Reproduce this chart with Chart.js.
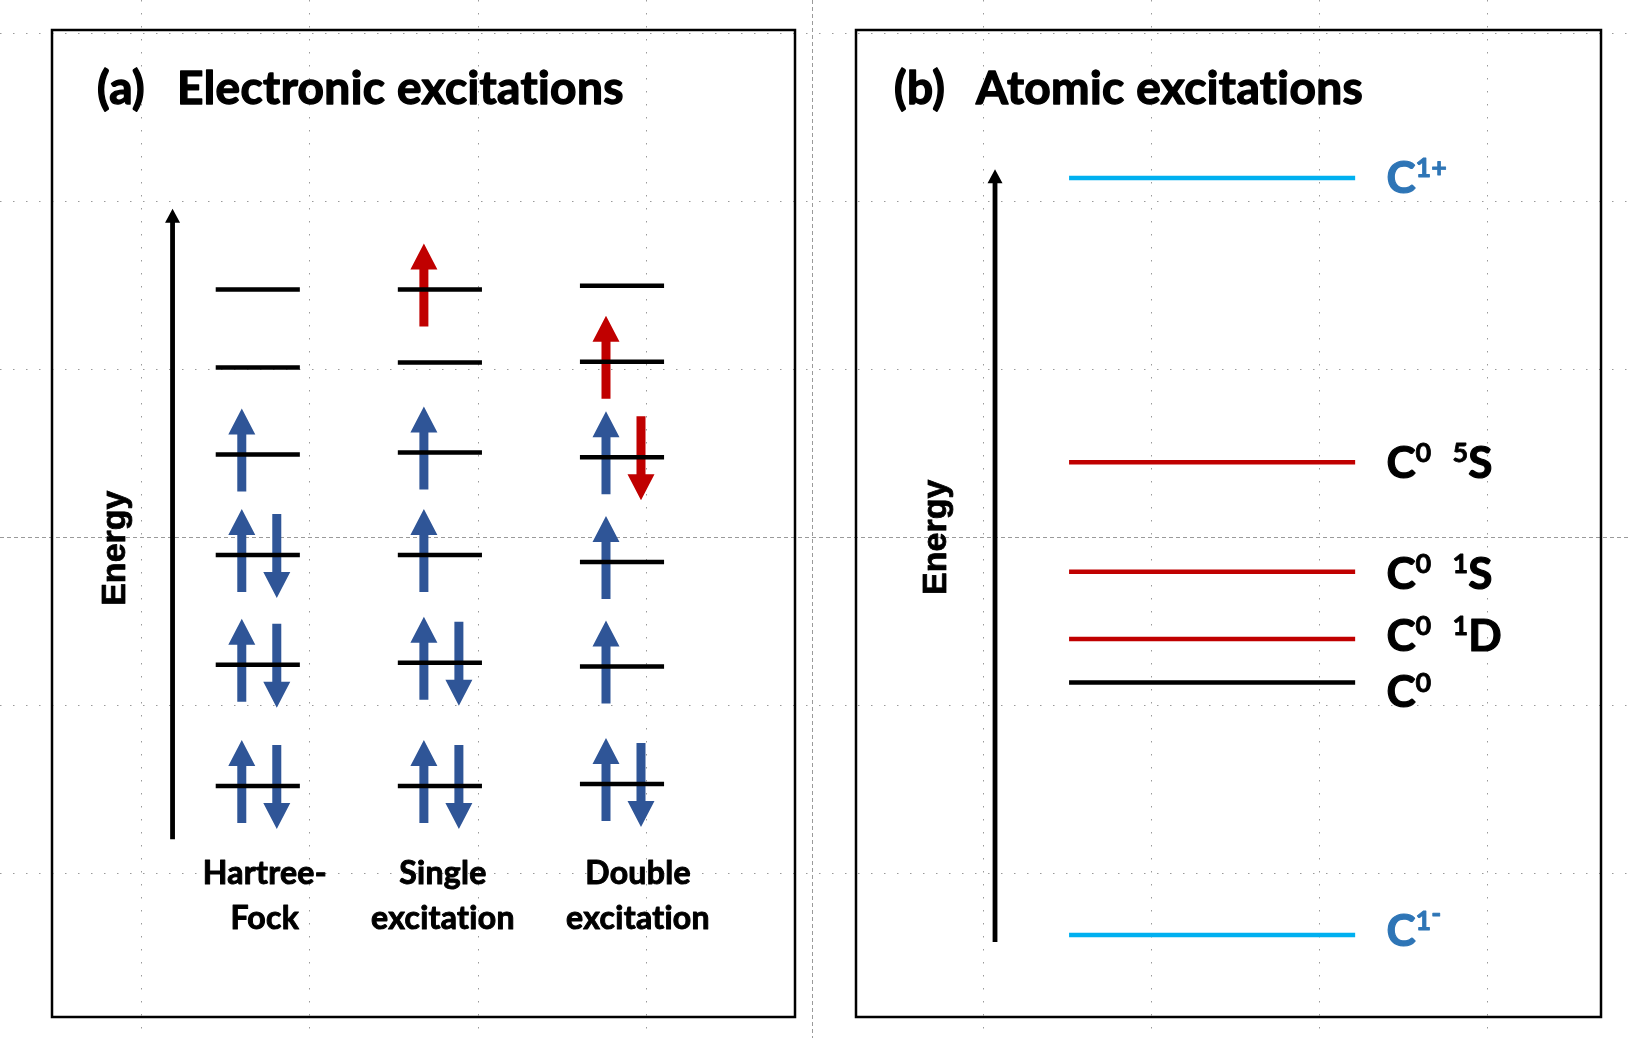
<!DOCTYPE html>
<html>
<head>
<meta charset="utf-8">
<script src="https://cdn.jsdelivr.net/npm/chart.js@4.4.1/dist/chart.umd.min.js"></script>
<style>
  html, body { margin: 0; padding: 0; background: #fff; }
  #wrap { position: relative; width: 1630px; height: 1038px; }
  #wrap canvas { position: absolute; left: 0; top: 0; }
</style>
</head>
<body>
<div id="wrap">
  <canvas id="electronicChart" width="1630" height="1038"></canvas>
  <canvas id="atomicChart" width="1630" height="1038"></canvas>
</div>
<script>
// (a) orbital diagrams, one column per configuration
const columns = [['Hartree-', 'Fock'], ['Single', 'excitation'], ['Double', 'excitation']];
// orbital energies, bottom to top (arbitrary units)
const hfLevels     = [2.34, 3.57, 4.68, 5.70, 6.58, 7.37];
const singleLevels = [2.34, 3.59, 4.68, 5.72, 6.63, 7.37];
const doubleLevels = [2.36, 3.55, 4.61, 5.67, 6.64, 7.41];
// electrons per orbital: 0 empty, 1 ground state, 2 excited
const hfUp       = [1, 1, 1, 1, 0, 0];
const hfDown     = [1, 1, 1, 0, 0, 0];
const singleUp   = [1, 1, 1, 1, 0, 2];
const singleDown = [1, 1, 0, 0, 0, 0];
const doubleUp   = [1, 1, 1, 1, 2, 0];
const doubleDown = [1, 0, 0, 2, 0, 0];

// (b) atomic states, top to bottom
const atomicStates = ['C^{1+}', 'C^{0}  ^{5}S', 'C^{0}  ^{1}S', 'C^{0}  ^{1}D', 'C^{0}', 'C^{1}^^{-}'];
const atomicLevels = [8.50, 5.62, 4.51, 3.83, 3.39, 0.83];
const atomicKinds  = ['ion', 'excited', 'excited', 'excited', 'ground', 'ion'];

const levelSets = [hfLevels, singleLevels, doubleLevels];
const upSets = [hfUp, singleUp, doubleUp];
const downSets = [hfDown, singleDown, doubleDown];

const BLACK = '#000000';
const SPIN_COLORS = ['', '#2F5597', '#C00000'];
const KIND_COLORS = { ion: '#00B0F0', excited: '#C00000', ground: '#000000' };
const KIND_TEXT = { ion: '#2E75B6', excited: '#000000', ground: '#000000' };
const TEXT_FONT = 'Lato, "Open Sans", sans-serif';
const AXIS_FONT = '"Liberation Sans", Arial, sans-serif';

// fill plus a thin stroke, the slide font is heavier than Lato bold
function heavyText(ctx, t, x, y, extra) {
  ctx.fillText(t, x, y);
  ctx.lineWidth = extra;
  ctx.lineJoin = 'round';
  ctx.strokeStyle = ctx.fillStyle;
  ctx.strokeText(t, x, y);
}

// orbital line from xc-half to xc+half, gaps between levels
function segments(xc, half, levels) {
  const pts = [];
  levels.forEach(e => {
    pts.push({ x: xc - half, y: e }, { x: xc + half, y: e }, { x: xc, y: null });
  });
  return pts;
}

// text with ^{...} superscripts (^^{...} sits a little higher)
function drawRich(ctx, text, x, y, size) {
  const parts = text.split(/(\^{1,2}\{[^}]*\})/).filter(s => s.length);
  parts.forEach(p => {
    const high = p.startsWith('^^{');
    const sup = high || p.startsWith('^{');
    const t = sup ? p.slice(high ? 3 : 2, -1) : p;
    ctx.font = 'bold ' + (sup ? Math.round(size * 0.62) : size) + 'px ' + TEXT_FONT;
    heavyText(ctx, t, x, sup ? y - size * (high ? 0.52 : 0.36) : y, sup ? 0.8 : 1.2);
    x += ctx.measureText(t).width;
  });
}

function drawArrow(ctx, x, yTail, yTip, color, shaftHalf, headHalf, headLen) {
  const dir = yTip < yTail ? -1 : 1;
  const yBase = yTip - dir * headLen;
  ctx.fillStyle = color;
  ctx.beginPath();
  ctx.moveTo(x - shaftHalf, yTail);
  ctx.lineTo(x - shaftHalf, yBase);
  ctx.lineTo(x - headHalf, yBase);
  ctx.lineTo(x, yTip);
  ctx.lineTo(x + headHalf, yBase);
  ctx.lineTo(x + shaftHalf, yBase);
  ctx.lineTo(x + shaftHalf, yTail);
  ctx.closePath();
  ctx.fill();
}

// slide grid and guides behind both panels
const pageGrid = {
  id: 'pageGrid',
  beforeDraw(chart, args, o) {
    const ctx = chart.ctx;
    const W = chart.width, H = chart.height;
    ctx.save();
    ctx.lineWidth = 1;
    ctx.strokeStyle = o.dotColor;
    ctx.setLineDash([1.5, 11.5]);
    for (let k = 0, x = o.x0; x < W; k++, x += o.step) {
      if (k === o.xGuide) continue;
      ctx.beginPath(); ctx.moveTo(Math.round(x) + 0.5, 0); ctx.lineTo(Math.round(x) + 0.5, H); ctx.stroke();
    }
    for (let k = 0, y = o.y0; y < H; k++, y += o.step - 0.3) {
      if (k === o.yGuide) continue;
      ctx.beginPath(); ctx.moveTo(0, Math.round(y) + 0.5); ctx.lineTo(W, Math.round(y) + 0.5); ctx.stroke();
    }
    ctx.strokeStyle = o.guideColor;
    ctx.setLineDash([4, 3]);
    ctx.beginPath(); ctx.moveTo(o.guideX + 0.5, 0); ctx.lineTo(o.guideX + 0.5, H); ctx.stroke();
    ctx.beginPath(); ctx.moveTo(0, o.guideY + 0.5); ctx.lineTo(W, o.guideY + 0.5); ctx.stroke();
    ctx.restore();
  }
};

// frame, title and energy arrow of a panel
const panelDecor = {
  id: 'panelDecor',
  afterDraw(chart, args, o) {
    const ctx = chart.ctx;
    const a = chart.chartArea;
    const xs = chart.scales.x, ys = chart.scales.y;
    ctx.save();
    ctx.strokeStyle = BLACK;
    ctx.lineWidth = 2.5;
    ctx.strokeRect(a.left, a.top, a.right - a.left, a.bottom - a.top);

    ctx.fillStyle = BLACK;
    ctx.textBaseline = 'alphabetic';
    ctx.textAlign = 'left';
    ctx.letterSpacing = '0.4px';
    ctx.font = 'bold ' + o.titleSize + 'px ' + TEXT_FONT;
    heavyText(ctx, o.tag, a.left + o.tagX, a.top + o.titleY, 1.4);
    heavyText(ctx, o.title, a.left + o.titleX, a.top + o.titleY, 1.4);
    ctx.letterSpacing = '0px';

    const ax = xs.getPixelForValue(o.axisX);
    const y0 = ys.getPixelForValue(o.axisFrom), y1 = ys.getPixelForValue(o.axisTo);
    drawArrow(ctx, ax, y0, y1, BLACK, 2.4, 7.5, 14);

    ctx.translate(ax - o.labelGap, ys.getPixelForValue(o.labelY));
    ctx.rotate(-Math.PI / 2);
    ctx.textAlign = 'center';
    ctx.font = 'bold 34px ' + AXIS_FONT;
    heavyText(ctx, 'Energy', 0, 0, 0.8);
    ctx.restore();
  }
};

// (a) electron spins, drawn under the orbital lines
const spinArrows = {
  id: 'spinArrows',
  beforeDatasetsDraw(chart) {
    const ctx = chart.ctx;
    const xs = chart.scales.x, ys = chart.scales.y;
    ctx.save();
    levelSets.forEach((levels, i) => {
      const xc = xs.getPixelForValue(i);
      levels.forEach((e, j) => {
        const y = ys.getPixelForValue(e);
        if (upSets[i][j]) drawArrow(ctx, xc - 16, y + 37, y - 46, SPIN_COLORS[upSets[i][j]], 4.5, 13.5, 26);
        if (downSets[i][j]) drawArrow(ctx, xc + 19, y - 41, y + 43, SPIN_COLORS[downSets[i][j]], 4.5, 13.5, 26);
      });
    });
    ctx.restore();
  },
  afterDraw(chart) {
    const ctx = chart.ctx;
    const xs = chart.scales.x, ys = chart.scales.y;
    const nudge = [7, 3, 16];
    const rows = [1.35, 0.89];
    ctx.save();
    ctx.fillStyle = BLACK;
    ctx.textAlign = 'center';
    ctx.letterSpacing = '0.3px';
    ctx.font = 'bold 32px ' + TEXT_FONT;
    columns.forEach((lines, i) => {
      const x = xs.getPixelForValue(i) + nudge[i];
      lines.forEach((t, r) => heavyText(ctx, t, x, ys.getPixelForValue(rows[r]), 1));
    });
    ctx.restore();
  }
};

// (b) state labels
const stateLabels = {
  id: 'stateLabels',
  afterDatasetsDraw(chart) {
    const ctx = chart.ctx;
    const xs = chart.scales.x, ys = chart.scales.y;
    const shift = [-1, 0, 1, -4, 9, -5];
    ctx.save();
    ctx.textAlign = 'left';
    ctx.textBaseline = 'alphabetic';
    atomicStates.forEach((s, k) => {
      ctx.fillStyle = KIND_TEXT[atomicKinds[k]];
      drawRich(ctx, s, xs.getPixelForValue(7.12), ys.getPixelForValue(atomicLevels[k]) + 16 + shift[k], 44);
    });
    ctx.restore();
  }
};

const baseOptions = (padding, xMin, xMax, decor) => ({
  responsive: false,
  animation: false,
  layout: { padding },
  scales: {
    x: { type: 'linear', min: xMin, max: xMax, display: false },
    y: { type: 'linear', min: 0, max: 10, display: false }
  },
  plugins: {
    legend: { display: false },
    tooltip: { enabled: false },
    panelDecor: decor
  },
  elements: { point: { radius: 0 }, line: { tension: 0, borderCapStyle: 'butt' } }
});

const electronicCtx = document.getElementById('electronicChart').getContext('2d');
const electronicOptions = baseOptions({ left: 52, top: 30, right: 835, bottom: 21 }, -1.13, 2.95, {
  tag: '(a)', title: 'Electronic excitations', titleSize: 46, tagX: 45, titleX: 125, titleY: 74,
  axisX: -0.468, axisFrom: 1.80, axisTo: 8.19, labelGap: 48, labelY: 4.75
});
electronicOptions.plugins.pageGrid = {
  x0: 141, y0: 33, step: 168.3, xGuide: 4, yGuide: 3, guideX: 812, guideY: 537,
  dotColor: '#9a9a9a', guideColor: '#9a9a9a'
};
new Chart(electronicCtx, {
  type: 'line',
  data: {
    datasets: levelSets.map((levels, i) => ({
      label: columns[i].join(' '),
      data: segments(i, 0.231, levels),
      borderColor: BLACK,
      borderWidth: 4.5,
      spanGaps: false
    }))
  },
  options: electronicOptions,
  plugins: [pageGrid, spinArrows, panelDecor]
});

const atomicCtx = document.getElementById('atomicChart').getContext('2d');
new Chart(atomicCtx, {
  type: 'line',
  data: {
    datasets: atomicLevels.map((e, k) => ({
      label: atomicStates[k],
      data: segments(4.78, 1.92, [e]),
      borderColor: KIND_COLORS[atomicKinds[k]],
      borderWidth: 4.5,
      spanGaps: false
    }))
  },
  options: baseOptions({ left: 856, top: 30, right: 29, bottom: 21 }, 0, 10, {
    tag: '(b)', title: 'Atomic excitations', titleSize: 46, tagX: 38, titleX: 120, titleY: 74,
    axisX: 1.866, axisFrom: 0.76, axisTo: 8.59, labelGap: 49, labelY: 4.86
  }),
  plugins: [stateLabels, panelDecor]
});
</script>
</body>
</html>
